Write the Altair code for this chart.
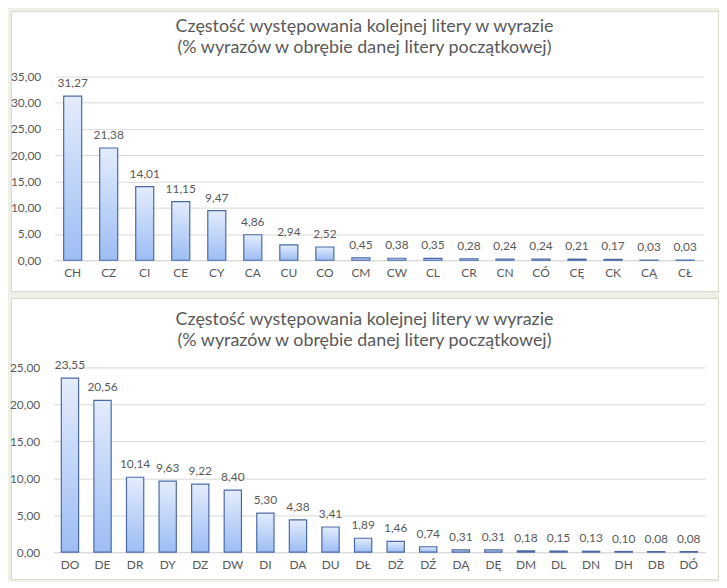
import altair as alt
import pandas as pd

# ---- data ----
top_letters = ["CH", "CZ", "CI", "CE", "CY", "CA", "CU", "CO", "CM", "CW",
               "CL", "CR", "CN", "CÓ", "CĘ", "CK", "CĄ", "CŁ"]
top_values = [31.27, 21.38, 14.01, 11.15, 9.47, 4.86, 2.94, 2.52, 0.45, 0.38,
              0.35, 0.28, 0.24, 0.24, 0.21, 0.17, 0.03, 0.03]
top_ticks = [0, 5, 10, 15, 20, 25, 30, 35]

bottom_letters = ["DO", "DE", "DR", "DY", "DZ", "DW", "DI", "DA", "DU", "DŁ",
                  "DŻ", "DŹ", "DĄ", "DĘ", "DM", "DL", "DN", "DH", "DB", "DÓ"]
bottom_values = [23.55, 20.56, 10.14, 9.63, 9.22, 8.40, 5.30, 4.38, 3.41, 1.89,
                 1.46, 0.74, 0.31, 0.31, 0.18, 0.15, 0.13, 0.10, 0.08, 0.08]
bottom_ticks = [0, 5, 10, 15, 20, 25]

title_lines = ["Częstość występowania kolejnej litery w wyrazie",
               "(% wyrazów w obrębie danej litery początkowej)"]

FONT = "Lato"
TXT = "#595959"
GRID = "#d9d9d9"
FMT = "replace(format(datum.value, '.2f'), '.', ',')"

bar_fill = alt.Gradient(
    gradient="linear", x1=0, y1=0, x2=0, y2=1,
    stops=[alt.GradientStop(color="#e3ecfc", offset=0),
           alt.GradientStop(color="#9dbdf4", offset=1)],
)


def panel(letters, values, ticks, ymax, w, h, xr, yr, title_off, pad_inner):
    df = pd.DataFrame({"k": letters, "v": values})
    base = alt.Chart(df)
    x = alt.X(
        "k:N", sort=letters,
        scale=alt.Scale(range=xr, paddingInner=pad_inner, paddingOuter=pad_inner / 2),
        axis=alt.Axis(title=None, labelAngle=0, ticks=False, grid=False,
                      domainColor=GRID, labelPadding=7, offset=-(h - yr[0]),
                      labelFont=FONT, labelFontSize=12, labelColor=TXT),
    )
    y = alt.Y(
        "v:Q",
        scale=alt.Scale(domain=[0, ymax], range=yr, nice=False, zero=True),
        axis=alt.Axis(title=None, values=ticks, labelExpr=FMT, domain=False,
                      ticks=False, grid=True, gridColor=GRID, labelPadding=14,
                      offset=-xr[0], labelFont=FONT, labelFontSize=12,
                      labelColor=TXT),
    )
    bars = base.mark_bar(fill=bar_fill, stroke="#4a6aa6", strokeWidth=1.2).encode(x=x, y=y)
    labels = base.transform_calculate(
        lbl="replace(format(datum.v, '.2f'), '.', ',')"
    ).mark_text(baseline="alphabetic", dy=-9, font=FONT, fontSize=12, color=TXT).encode(
        x=alt.X("k:N", sort=letters), y="v:Q", text="lbl:N"
    )
    return alt.layer(bars, labels).properties(
        width=w, height=h,
        title=alt.TitleParams(text=title_lines, anchor="middle", baseline="top",
                              offset=title_off, font=FONT, fontSize=18,
                              fontWeight="normal", color=TXT, lineHeight=21),
    )


top = panel(top_letters, top_values, top_ticks, 35, 712, 282,
            [44, 697], [251, 66], -46.5, 0.5)
bottom = panel(bottom_letters, bottom_values, bottom_ticks, 25, 712, 283,
               [43, 699], [256, 70], -52.5, 0.47)

chart = alt.vconcat(top, bottom, spacing=5).properties(
    padding=0, background="#edf0e6"
).configure_view(fill="white", stroke="#d6d9cc", strokeWidth=1)

chart.save("out.html", embed_options={"renderer": "svg", "actions": False})
